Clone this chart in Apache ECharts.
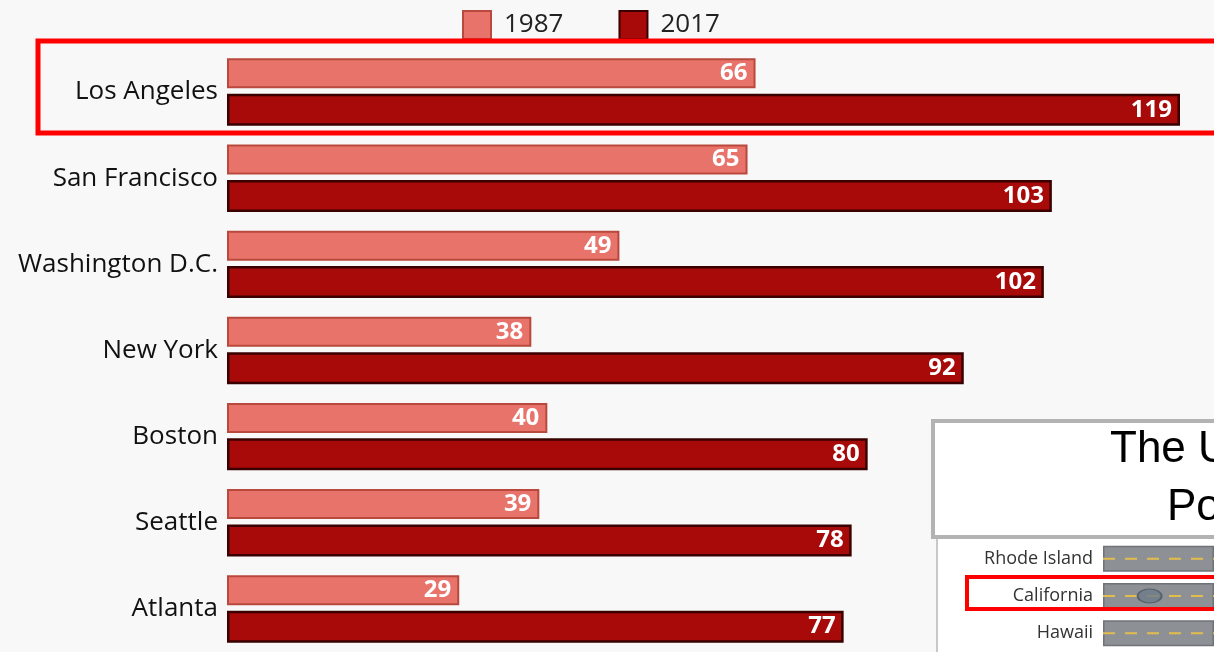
<!DOCTYPE html>
<html><head><meta charset="utf-8">
<script src="https://cdn.jsdelivr.net/npm/echarts@6/dist/echarts.min.js"></script>
<style>html,body{margin:0;padding:0;background:#f8f8f8}#c{width:1214px;height:652px}</style>
</head><body><div id="c"></div>
<script>
const cities = ['Los Angeles','San Francisco','Washington D.C.','New York','Boston','Seattle','Atlanta'];
const v1987 = [66, 65, 49, 38, 40, 39, 29];
const v2017 = [119, 103, 102, 92, 80, 78, 77];
const seriesNames = ['1987','2017'];
const insetStates = ['Rhode Island','California','Hawaii'];
const insetRoad = [10, 10, 10];
const insetCar = [[4.2, 'California']];
const insetTitle = ['The U', 'Po'];

const chart = echarts.init(document.getElementById('c'));
const laneSeries = insetStates.map(s => ({
  type:'line', xAxisIndex:1, yAxisIndex:1, symbol:'none', silent:true, z:5,
  data:[[0,s],[10,s]],
  lineStyle:{color:'#e3bd4c', width:2, type:[12,10]}
}));
chart.setOption({
  backgroundColor:'#f8f8f8',
  animation:false,
  legend:{
    top:10, left:462, padding:0, itemWidth:28, itemHeight:28, itemGap:55,
    icon:'rect',
    textStyle:{fontFamily:'Open Sans', fontSize:26, color:'#222', padding:[0,0,0,8]},
    data:seriesNames
  },
  grid:[
    {left:227, right:26, top:49, height:610},
    {left:1103, right:0, top:540, height:112.5}
  ],
  xAxis:[
    {type:'value', min:0, max:120, show:false},
    {type:'value', gridIndex:1, min:0, max:10, show:false}
  ],
  yAxis:[
    {type:'category', data:cities, inverse:true,
     axisLine:{show:false}, axisTick:{show:false}, splitLine:{show:false},
     axisLabel:{fontFamily:'Open Sans', fontSize:26, color:'#111', margin:9, padding:[4,0,0,0]}},
    {type:'category', gridIndex:1, data:insetStates, inverse:true,
     axisLine:{show:false}, axisTick:{show:false}, splitLine:{show:false},
     axisLabel:{fontFamily:'Open Sans', fontSize:18, color:'#333', margin:10}}
  ],
  series:[
    {name:seriesNames[0], type:'bar', data:v1987, barWidth:30, barGap:'18%',
     itemStyle:{color:'#e8736a', borderColor:'#b9483d', borderWidth:2},
     label:{show:true, position:'insideRight', distance:8, color:'#fff', fontFamily:'Open Sans', fontWeight:'bold', fontSize:24}},
    {name:seriesNames[1], type:'bar', data:v2017, barWidth:32,
     itemStyle:{color:'#a80909', borderColor:'#3a0000', borderWidth:2.5},
     label:{show:true, position:'insideRight', distance:8, color:'#fff', fontFamily:'Open Sans', fontWeight:'bold', fontSize:24}},
    {type:'bar', xAxisIndex:1, yAxisIndex:1, data:insetRoad, barWidth:26, silent:true, z:3,
     itemStyle:{color:'#8d9196', borderColor:'#6f7378', borderWidth:1.5}},
    ...laneSeries,
    {type:'scatter', xAxisIndex:1, yAxisIndex:1, data:insetCar, symbol:'circle', symbolSize:[24,14], z:6,
     itemStyle:{color:'#6e7b89', borderColor:'#4c5660', borderWidth:1.5}}
  ],
  graphic:[
    {type:'rect', z:-10, shape:{x:937, y:538, width:290, height:120}, style:{fill:'#ffffff', stroke:'#c8c8c8', lineWidth:2}},
    {type:'rect', z:50, shape:{x:933, y:421, width:300, height:116}, style:{fill:'#ffffff', stroke:'#b3b3b3', lineWidth:4}},
    {type:'text', z:51, left:1110, top:428, style:{text:insetTitle[0], font:'44px "Liberation Sans"', fill:'#000'}},
    {type:'text', z:51, left:1167, top:486, style:{text:insetTitle[1], font:'44px "Liberation Sans"', fill:'#000'}},
    {type:'rect', z:100, shape:{x:38, y:41, width:1200, height:92}, style:{fill:'none', stroke:'#ff0000', lineWidth:5}},
    {type:'rect', z:100, shape:{x:967, y:577, width:270, height:32}, style:{fill:'none', stroke:'#ff0000', lineWidth:4}}
  ]
});
</script></body></html>
